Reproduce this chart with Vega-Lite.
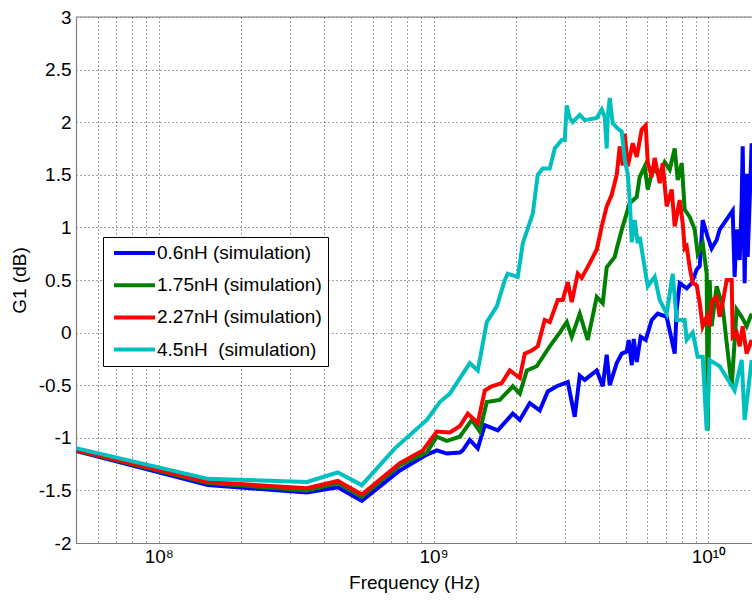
{
  "$schema": "https://vega.github.io/schema/vega-lite/v6.json",
  "width": 676,
  "height": 526,
  "autosize": {"type": "none"},
  "padding": {"left": 76, "top": 17, "right": 0, "bottom": 58},
  "background": "white",
  "config": {
    "view": {"stroke": null},
    "font": "Liberation Sans",
    "axis": {
      "labelFont": "Liberation Sans",
      "titleFont": "Liberation Sans",
      "labelFontSize": 19,
      "titleFontSize": 19,
      "titleFontWeight": "normal",
      "labelColor": "black",
      "titleColor": "black",
      "domainColor": "#7f7f7f",
      "domainWidth": 1.2,
      "gridColor": "#222222",
      "gridDash": [1, 3],
      "gridWidth": 1,
      "gridOpacity": 0.85,
      "ticks": false,
      "labelFlush": false,
      "labelOverlap": false,
      "labelBound": false
    }
  },
  "data": {
    "values": [
      {"series": "0.6nH (simulation)", "freq": 5.0e7, "g": -1.125},
      {"series": "0.6nH (simulation)", "freq": 1.51e8, "g": -1.45},
      {"series": "0.6nH (simulation)", "freq": 3.46e8, "g": -1.52},
      {"series": "0.6nH (simulation)", "freq": 4.48e8, "g": -1.47},
      {"series": "0.6nH (simulation)", "freq": 5.48e8, "g": -1.6},
      {"series": "0.6nH (simulation)", "freq": 7.54e8, "g": -1.31},
      {"series": "0.6nH (simulation)", "freq": 9.45e8, "g": -1.16},
      {"series": "0.6nH (simulation)", "freq": 1.027e9, "g": -1.12},
      {"series": "0.6nH (simulation)", "freq": 1.117e9, "g": -1.15},
      {"series": "0.6nH (simulation)", "freq": 1.245e9, "g": -1.14},
      {"series": "0.6nH (simulation)", "freq": 1.277e9, "g": -1.12},
      {"series": "0.6nH (simulation)", "freq": 1.354e9, "g": -1.02},
      {"series": "0.6nH (simulation)", "freq": 1.448e9, "g": -1.1},
      {"series": "0.6nH (simulation)", "freq": 1.535e9, "g": -0.88},
      {"series": "0.6nH (simulation)", "freq": 1.712e9, "g": -0.93},
      {"series": "0.6nH (simulation)", "freq": 1.941e9, "g": -0.77},
      {"series": "0.6nH (simulation)", "freq": 2.059e9, "g": -0.83},
      {"series": "0.6nH (simulation)", "freq": 2.238e9, "g": -0.67},
      {"series": "0.6nH (simulation)", "freq": 2.433e9, "g": -0.74},
      {"series": "0.6nH (simulation)", "freq": 2.602e9, "g": -0.56},
      {"series": "0.6nH (simulation)", "freq": 2.806e9, "g": -0.51},
      {"series": "0.6nH (simulation)", "freq": 3.077e9, "g": -0.47},
      {"series": "0.6nH (simulation)", "freq": 3.262e9, "g": -0.8},
      {"series": "0.6nH (simulation)", "freq": 3.401e9, "g": -0.41},
      {"series": "0.6nH (simulation)", "freq": 3.547e9, "g": -0.45},
      {"series": "0.6nH (simulation)", "freq": 3.922e9, "g": -0.36},
      {"series": "0.6nH (simulation)", "freq": 4.124e9, "g": -0.51},
      {"series": "0.6nH (simulation)", "freq": 4.264e9, "g": -0.21},
      {"series": "0.6nH (simulation)", "freq": 4.373e9, "g": -0.5},
      {"series": "0.6nH (simulation)", "freq": 4.637e9, "g": -0.29},
      {"series": "0.6nH (simulation)", "freq": 4.836e9, "g": -0.2},
      {"series": "0.6nH (simulation)", "freq": 5.042e9, "g": -0.18},
      {"series": "0.6nH (simulation)", "freq": 5.126e9, "g": -0.07},
      {"series": "0.6nH (simulation)", "freq": 5.259e9, "g": -0.31},
      {"series": "0.6nH (simulation)", "freq": 5.347e9, "g": -0.06},
      {"series": "0.6nH (simulation)", "freq": 5.482e9, "g": -0.28},
      {"series": "0.6nH (simulation)", "freq": 5.668e9, "g": -0.04},
      {"series": "0.6nH (simulation)", "freq": 5.912e9, "g": -0.07},
      {"series": "0.6nH (simulation)", "freq": 6.216e9, "g": 0.12},
      {"series": "0.6nH (simulation)", "freq": 6.536e9, "g": 0.18},
      {"series": "0.6nH (simulation)", "freq": 7.046e9, "g": 0.15},
      {"series": "0.6nH (simulation)", "freq": 7.536e9, "g": -0.2},
      {"series": "0.6nH (simulation)", "freq": 7.663e9, "g": 0.22},
      {"series": "0.6nH (simulation)", "freq": 7.858e9, "g": 0.47},
      {"series": "0.6nH (simulation)", "freq": 8.333e9, "g": 0.42},
      {"series": "0.6nH (simulation)", "freq": 8.69e9, "g": 0.47},
      {"series": "0.6nH (simulation)", "freq": 9.061e9, "g": 0.6},
      {"series": "0.6nH (simulation)", "freq": 9.292e9, "g": 0.63},
      {"series": "0.6nH (simulation)", "freq": 9.528e9, "g": 1.07},
      {"series": "0.6nH (simulation)", "freq": 9.935e9, "g": 0.91},
      {"series": "0.6nH (simulation)", "freq": 1.027e10, "g": 0.8},
      {"series": "0.6nH (simulation)", "freq": 1.071e10, "g": 0.88},
      {"series": "0.6nH (simulation)", "freq": 1.098e10, "g": 0.98},
      {"series": "0.6nH (simulation)", "freq": 1.225e10, "g": 1.16},
      {"series": "0.6nH (simulation)", "freq": 1.245e10, "g": 0.53},
      {"series": "0.6nH (simulation)", "freq": 1.266e10, "g": 0.98},
      {"series": "0.6nH (simulation)", "freq": 1.299e10, "g": 0.69},
      {"series": "0.6nH (simulation)", "freq": 1.321e10, "g": 1.26},
      {"series": "0.6nH (simulation)", "freq": 1.332e10, "g": 1.77},
      {"series": "0.6nH (simulation)", "freq": 1.354e10, "g": 0.47},
      {"series": "0.6nH (simulation)", "freq": 1.377e10, "g": 1.51},
      {"series": "0.6nH (simulation)", "freq": 1.389e10, "g": 0.72},
      {"series": "0.6nH (simulation)", "freq": 1.436e10, "g": 1.8},

      {"series": "1.75nH (simulation)", "freq": 5.0e7, "g": -1.12},
      {"series": "1.75nH (simulation)", "freq": 1.51e8, "g": -1.43},
      {"series": "1.75nH (simulation)", "freq": 3.46e8, "g": -1.5},
      {"series": "1.75nH (simulation)", "freq": 4.48e8, "g": -1.43},
      {"series": "1.75nH (simulation)", "freq": 5.48e8, "g": -1.56},
      {"series": "1.75nH (simulation)", "freq": 7.54e8, "g": -1.26},
      {"series": "1.75nH (simulation)", "freq": 9.45e8, "g": -1.14},
      {"series": "1.75nH (simulation)", "freq": 1.027e9, "g": -0.99},
      {"series": "1.75nH (simulation)", "freq": 1.117e9, "g": -1.03},
      {"series": "1.75nH (simulation)", "freq": 1.245e9, "g": -0.99},
      {"series": "1.75nH (simulation)", "freq": 1.377e9, "g": -0.83},
      {"series": "1.75nH (simulation)", "freq": 1.472e9, "g": -0.94},
      {"series": "1.75nH (simulation)", "freq": 1.561e9, "g": -0.66},
      {"series": "1.75nH (simulation)", "freq": 1.741e9, "g": -0.64},
      {"series": "1.75nH (simulation)", "freq": 1.941e9, "g": -0.51},
      {"series": "1.75nH (simulation)", "freq": 2.059e9, "g": -0.58},
      {"series": "1.75nH (simulation)", "freq": 2.183e9, "g": -0.36},
      {"series": "1.75nH (simulation)", "freq": 2.373e9, "g": -0.32},
      {"series": "1.75nH (simulation)", "freq": 2.646e9, "g": -0.13},
      {"series": "1.75nH (simulation)", "freq": 2.877e9, "g": 0.0},
      {"series": "1.75nH (simulation)", "freq": 3.051e9, "g": 0.1},
      {"series": "1.75nH (simulation)", "freq": 3.181e9, "g": -0.04},
      {"series": "1.75nH (simulation)", "freq": 3.401e9, "g": 0.18},
      {"series": "1.75nH (simulation)", "freq": 3.637e9, "g": -0.07},
      {"series": "1.75nH (simulation)", "freq": 3.922e9, "g": 0.34},
      {"series": "1.75nH (simulation)", "freq": 4.124e9, "g": 0.28},
      {"series": "1.75nH (simulation)", "freq": 4.264e9, "g": 0.62},
      {"series": "1.75nH (simulation)", "freq": 4.56e9, "g": 0.72},
      {"series": "1.75nH (simulation)", "freq": 4.637e9, "g": 0.8},
      {"series": "1.75nH (simulation)", "freq": 4.876e9, "g": 1.01},
      {"series": "1.75nH (simulation)", "freq": 5.169e9, "g": 1.23},
      {"series": "1.75nH (simulation)", "freq": 5.482e9, "g": 1.29},
      {"series": "1.75nH (simulation)", "freq": 5.621e9, "g": 1.48},
      {"series": "1.75nH (simulation)", "freq": 5.863e9, "g": 1.58},
      {"series": "1.75nH (simulation)", "freq": 6.012e9, "g": 1.36},
      {"series": "1.75nH (simulation)", "freq": 6.268e9, "g": 1.55},
      {"series": "1.75nH (simulation)", "freq": 6.646e9, "g": 1.51},
      {"series": "1.75nH (simulation)", "freq": 6.929e9, "g": 1.62},
      {"series": "1.75nH (simulation)", "freq": 7.227e9, "g": 1.55},
      {"series": "1.75nH (simulation)", "freq": 7.536e9, "g": 1.75},
      {"series": "1.75nH (simulation)", "freq": 7.728e9, "g": 1.45},
      {"series": "1.75nH (simulation)", "freq": 7.991e9, "g": 1.61},
      {"series": "1.75nH (simulation)", "freq": 8.194e9, "g": 1.17},
      {"series": "1.75nH (simulation)", "freq": 8.545e9, "g": 1.1},
      {"series": "1.75nH (simulation)", "freq": 8.911e9, "g": 0.98},
      {"series": "1.75nH (simulation)", "freq": 9.137e9, "g": 0.75},
      {"series": "1.75nH (simulation)", "freq": 9.528e9, "g": 0.85},
      {"series": "1.75nH (simulation)", "freq": 9.852e9, "g": 0.56},
      {"series": "1.75nH (simulation)", "freq": 9.935e9, "g": -0.93},
      {"series": "1.75nH (simulation)", "freq": 1.01e10, "g": 0.5},
      {"series": "1.75nH (simulation)", "freq": 1.027e10, "g": 0.06},
      {"series": "1.75nH (simulation)", "freq": 1.071e10, "g": 0.44},
      {"series": "1.75nH (simulation)", "freq": 1.126e10, "g": 0.25},
      {"series": "1.75nH (simulation)", "freq": 1.165e10, "g": -0.1},
      {"series": "1.75nH (simulation)", "freq": 1.215e10, "g": -0.51},
      {"series": "1.75nH (simulation)", "freq": 1.266e10, "g": 0.22},
      {"series": "1.75nH (simulation)", "freq": 1.321e10, "g": 0.15},
      {"series": "1.75nH (simulation)", "freq": 1.377e10, "g": 0.06},
      {"series": "1.75nH (simulation)", "freq": 1.436e10, "g": 0.18},

      {"series": "2.27nH (simulation)", "freq": 5.0e7, "g": -1.115},
      {"series": "2.27nH (simulation)", "freq": 1.51e8, "g": -1.42},
      {"series": "2.27nH (simulation)", "freq": 3.46e8, "g": -1.48},
      {"series": "2.27nH (simulation)", "freq": 4.48e8, "g": -1.41},
      {"series": "2.27nH (simulation)", "freq": 5.48e8, "g": -1.54},
      {"series": "2.27nH (simulation)", "freq": 7.54e8, "g": -1.24},
      {"series": "2.27nH (simulation)", "freq": 9.14e8, "g": -1.12},
      {"series": "2.27nH (simulation)", "freq": 1.027e9, "g": -0.94},
      {"series": "2.27nH (simulation)", "freq": 1.146e9, "g": -0.95},
      {"series": "2.27nH (simulation)", "freq": 1.245e9, "g": -0.89},
      {"series": "2.27nH (simulation)", "freq": 1.332e9, "g": -0.77},
      {"series": "2.27nH (simulation)", "freq": 1.448e9, "g": -0.86},
      {"series": "2.27nH (simulation)", "freq": 1.535e9, "g": -0.55},
      {"series": "2.27nH (simulation)", "freq": 1.628e9, "g": -0.51},
      {"series": "2.27nH (simulation)", "freq": 1.77e9, "g": -0.48},
      {"series": "2.27nH (simulation)", "freq": 1.893e9, "g": -0.36},
      {"series": "2.27nH (simulation)", "freq": 2.059e9, "g": -0.43},
      {"series": "2.27nH (simulation)", "freq": 2.146e9, "g": -0.2},
      {"series": "2.27nH (simulation)", "freq": 2.276e9, "g": -0.17},
      {"series": "2.27nH (simulation)", "freq": 2.393e9, "g": -0.13},
      {"series": "2.27nH (simulation)", "freq": 2.537e9, "g": 0.12},
      {"series": "2.27nH (simulation)", "freq": 2.646e9, "g": 0.1},
      {"series": "2.27nH (simulation)", "freq": 2.83e9, "g": 0.31},
      {"series": "2.27nH (simulation)", "freq": 2.95e9, "g": 0.31},
      {"series": "2.27nH (simulation)", "freq": 3.077e9, "g": 0.48},
      {"series": "2.27nH (simulation)", "freq": 3.181e9, "g": 0.29},
      {"series": "2.27nH (simulation)", "freq": 3.345e9, "g": 0.56},
      {"series": "2.27nH (simulation)", "freq": 3.459e9, "g": 0.52},
      {"series": "2.27nH (simulation)", "freq": 3.699e9, "g": 0.66},
      {"series": "2.27nH (simulation)", "freq": 3.922e9, "g": 0.79},
      {"series": "2.27nH (simulation)", "freq": 4.09e9, "g": 1.01},
      {"series": "2.27nH (simulation)", "freq": 4.264e9, "g": 1.2},
      {"series": "2.27nH (simulation)", "freq": 4.446e9, "g": 1.31},
      {"series": "2.27nH (simulation)", "freq": 4.637e9, "g": 1.5},
      {"series": "2.27nH (simulation)", "freq": 4.755e9, "g": 1.77},
      {"series": "2.27nH (simulation)", "freq": 4.876e9, "g": 1.59},
      {"series": "2.27nH (simulation)", "freq": 4.959e9, "g": 1.89},
      {"series": "2.27nH (simulation)", "freq": 5.084e9, "g": 1.58},
      {"series": "2.27nH (simulation)", "freq": 5.303e9, "g": 1.8},
      {"series": "2.27nH (simulation)", "freq": 5.482e9, "g": 1.67},
      {"series": "2.27nH (simulation)", "freq": 5.716e9, "g": 1.93},
      {"series": "2.27nH (simulation)", "freq": 5.912e9, "g": 1.97},
      {"series": "2.27nH (simulation)", "freq": 6.012e9, "g": 1.62},
      {"series": "2.27nH (simulation)", "freq": 6.216e9, "g": 1.48},
      {"series": "2.27nH (simulation)", "freq": 6.374e9, "g": 1.66},
      {"series": "2.27nH (simulation)", "freq": 6.646e9, "g": 1.42},
      {"series": "2.27nH (simulation)", "freq": 6.815e9, "g": 1.61},
      {"series": "2.27nH (simulation)", "freq": 7.046e9, "g": 1.2},
      {"series": "2.27nH (simulation)", "freq": 7.349e9, "g": 1.36},
      {"series": "2.27nH (simulation)", "freq": 7.536e9, "g": 1.01},
      {"series": "2.27nH (simulation)", "freq": 7.858e9, "g": 1.26},
      {"series": "2.27nH (simulation)", "freq": 8.058e9, "g": 1.04},
      {"series": "2.27nH (simulation)", "freq": 8.194e9, "g": 0.8},
      {"series": "2.27nH (simulation)", "freq": 8.333e9, "g": 0.82},
      {"series": "2.27nH (simulation)", "freq": 8.545e9, "g": 0.62},
      {"series": "2.27nH (simulation)", "freq": 8.762e9, "g": 0.47},
      {"series": "2.27nH (simulation)", "freq": 9.061e9, "g": 0.45},
      {"series": "2.27nH (simulation)", "freq": 9.292e9, "g": 0.28},
      {"series": "2.27nH (simulation)", "freq": 9.528e9, "g": 0.06},
      {"series": "2.27nH (simulation)", "freq": 9.852e9, "g": 0.15},
      {"series": "2.27nH (simulation)", "freq": 1.01e10, "g": 0.06},
      {"series": "2.27nH (simulation)", "freq": 1.027e10, "g": 0.3},
      {"series": "2.27nH (simulation)", "freq": 1.071e10, "g": 0.34},
      {"series": "2.27nH (simulation)", "freq": 1.098e10, "g": 0.15},
      {"series": "2.27nH (simulation)", "freq": 1.126e10, "g": 0.28},
      {"series": "2.27nH (simulation)", "freq": 1.165e10, "g": 0.5},
      {"series": "2.27nH (simulation)", "freq": 1.215e10, "g": 0.5},
      {"series": "2.27nH (simulation)", "freq": 1.225e10, "g": -0.04},
      {"series": "2.27nH (simulation)", "freq": 1.266e10, "g": 0.0},
      {"series": "2.27nH (simulation)", "freq": 1.299e10, "g": -0.13},
      {"series": "2.27nH (simulation)", "freq": 1.332e10, "g": 0.06},
      {"series": "2.27nH (simulation)", "freq": 1.377e10, "g": -0.2},
      {"series": "2.27nH (simulation)", "freq": 1.436e10, "g": -0.07},

      {"series": "4.5nH\u00a0 (simulation)", "freq": 5.0e7, "g": -1.1},
      {"series": "4.5nH\u00a0 (simulation)", "freq": 1.51e8, "g": -1.39},
      {"series": "4.5nH\u00a0 (simulation)", "freq": 3.46e8, "g": -1.42},
      {"series": "4.5nH\u00a0 (simulation)", "freq": 4.48e8, "g": -1.33},
      {"series": "4.5nH\u00a0 (simulation)", "freq": 5.48e8, "g": -1.45},
      {"series": "4.5nH\u00a0 (simulation)", "freq": 7.23e8, "g": -1.1},
      {"series": "4.5nH\u00a0 (simulation)", "freq": 9.45e8, "g": -0.83},
      {"series": "4.5nH\u00a0 (simulation)", "freq": 1.053e9, "g": -0.66},
      {"series": "4.5nH\u00a0 (simulation)", "freq": 1.146e9, "g": -0.58},
      {"series": "4.5nH\u00a0 (simulation)", "freq": 1.354e9, "g": -0.29},
      {"series": "4.5nH\u00a0 (simulation)", "freq": 1.448e9, "g": -0.36},
      {"series": "4.5nH\u00a0 (simulation)", "freq": 1.561e9, "g": 0.1},
      {"series": "4.5nH\u00a0 (simulation)", "freq": 1.698e9, "g": 0.25},
      {"series": "4.5nH\u00a0 (simulation)", "freq": 1.816e9, "g": 0.5},
      {"series": "4.5nH\u00a0 (simulation)", "freq": 1.862e9, "g": 0.56},
      {"series": "4.5nH\u00a0 (simulation)", "freq": 2.024e9, "g": 0.53},
      {"series": "4.5nH\u00a0 (simulation)", "freq": 2.111e9, "g": 0.85},
      {"series": "4.5nH\u00a0 (simulation)", "freq": 2.295e9, "g": 1.13},
      {"series": "4.5nH\u00a0 (simulation)", "freq": 2.393e9, "g": 1.5},
      {"series": "4.5nH\u00a0 (simulation)", "freq": 2.495e9, "g": 1.56},
      {"series": "4.5nH\u00a0 (simulation)", "freq": 2.646e9, "g": 1.56},
      {"series": "4.5nH\u00a0 (simulation)", "freq": 2.759e9, "g": 1.75},
      {"series": "4.5nH\u00a0 (simulation)", "freq": 2.926e9, "g": 1.83},
      {"series": "4.5nH\u00a0 (simulation)", "freq": 3.0e9, "g": 1.83},
      {"series": "4.5nH\u00a0 (simulation)", "freq": 3.051e9, "g": 2.16},
      {"series": "4.5nH\u00a0 (simulation)", "freq": 3.128e9, "g": 2.04},
      {"series": "4.5nH\u00a0 (simulation)", "freq": 3.208e9, "g": 2.0},
      {"series": "4.5nH\u00a0 (simulation)", "freq": 3.401e9, "g": 2.07},
      {"series": "4.5nH\u00a0 (simulation)", "freq": 3.547e9, "g": 2.02},
      {"series": "4.5nH\u00a0 (simulation)", "freq": 3.922e9, "g": 2.04},
      {"series": "4.5nH\u00a0 (simulation)", "freq": 4.09e9, "g": 2.12},
      {"series": "4.5nH\u00a0 (simulation)", "freq": 4.193e9, "g": 2.05},
      {"series": "4.5nH\u00a0 (simulation)", "freq": 4.264e9, "g": 1.75},
      {"series": "4.5nH\u00a0 (simulation)", "freq": 4.3e9, "g": 2.05},
      {"series": "4.5nH\u00a0 (simulation)", "freq": 4.373e9, "g": 2.23},
      {"series": "4.5nH\u00a0 (simulation)", "freq": 4.484e9, "g": 1.99},
      {"series": "4.5nH\u00a0 (simulation)", "freq": 4.676e9, "g": 1.94},
      {"series": "4.5nH\u00a0 (simulation)", "freq": 4.836e9, "g": 1.91},
      {"series": "4.5nH\u00a0 (simulation)", "freq": 4.959e9, "g": 1.64},
      {"series": "4.5nH\u00a0 (simulation)", "freq": 5.084e9, "g": 1.51},
      {"series": "4.5nH\u00a0 (simulation)", "freq": 5.169e9, "g": 1.26},
      {"series": "4.5nH\u00a0 (simulation)", "freq": 5.259e9, "g": 0.86},
      {"series": "4.5nH\u00a0 (simulation)", "freq": 5.392e9, "g": 1.07},
      {"series": "4.5nH\u00a0 (simulation)", "freq": 5.528e9, "g": 0.85},
      {"series": "4.5nH\u00a0 (simulation)", "freq": 5.621e9, "g": 0.91},
      {"series": "4.5nH\u00a0 (simulation)", "freq": 6.012e9, "g": 0.44},
      {"series": "4.5nH\u00a0 (simulation)", "freq": 6.374e9, "g": 0.53},
      {"series": "4.5nH\u00a0 (simulation)", "freq": 6.646e9, "g": 0.31},
      {"series": "4.5nH\u00a0 (simulation)", "freq": 7.046e9, "g": 0.18},
      {"series": "4.5nH\u00a0 (simulation)", "freq": 7.41e9, "g": 0.56},
      {"series": "4.5nH\u00a0 (simulation)", "freq": 7.663e9, "g": 0.12},
      {"series": "4.5nH\u00a0 (simulation)", "freq": 8.194e9, "g": 0.12},
      {"series": "4.5nH\u00a0 (simulation)", "freq": 8.333e9, "g": -0.07},
      {"series": "4.5nH\u00a0 (simulation)", "freq": 8.762e9, "g": 0.0},
      {"series": "4.5nH\u00a0 (simulation)", "freq": 9.137e9, "g": -0.23},
      {"series": "4.5nH\u00a0 (simulation)", "freq": 9.528e9, "g": -0.23},
      {"series": "4.5nH\u00a0 (simulation)", "freq": 9.852e9, "g": -0.93},
      {"series": "4.5nH\u00a0 (simulation)", "freq": 1.01e10, "g": -0.26},
      {"series": "4.5nH\u00a0 (simulation)", "freq": 1.053e10, "g": -0.29},
      {"series": "4.5nH\u00a0 (simulation)", "freq": 1.098e10, "g": -0.32},
      {"series": "4.5nH\u00a0 (simulation)", "freq": 1.245e10, "g": -0.55},
      {"series": "4.5nH\u00a0 (simulation)", "freq": 1.321e10, "g": -0.26},
      {"series": "4.5nH\u00a0 (simulation)", "freq": 1.354e10, "g": -0.83},
      {"series": "4.5nH\u00a0 (simulation)", "freq": 1.436e10, "g": -0.26}
    ]
  },
  "layer": [
    {
      "mark": {"type": "line", "strokeWidth": 4, "clip": true, "strokeJoin": "miter"},
      "encoding": {
        "x": {
          "field": "freq",
          "type": "quantitative",
          "scale": {"type": "log", "domain": [5e7, 1.44e10], "nice": false},
          "axis": {
            "title": "Frequency (Hz)",
            "values": [6e7, 7e7, 8e7, 9e7, 100000000, 2e8, 3e8, 4e8, 5e8, 6e8, 7e8, 8e8, 9e8, 1000000000, 2e9, 3e9, 4e9, 5e9, 6e9, 7e9, 8e9, 9e9, 10000000000],
            "labelExpr": "datum.value == 100000000 ? '10⁸' : datum.value == 1000000000 ? '10⁹' : datum.value == 10000000000 ? '10¹⁰' : ''",
            "labelPadding": 4,
            "titlePadding": 7
          }
        },
        "y": {
          "field": "g",
          "type": "quantitative",
          "scale": {"domain": [-2, 3], "nice": false, "zero": false},
          "axis": {
            "title": "G1 (dB)",
            "values": [-2, -1.5, -1, -0.5, 0, 0.5, 1, 1.5, 2, 2.5, 3],
            "labelExpr": "datum.value + ''",
            "labelPadding": 5,
            "titlePadding": 9
          }
        },
        "color": {
          "field": "series",
          "type": "nominal",
          "scale": {
            "domain": ["0.6nH (simulation)", "1.75nH (simulation)", "2.27nH (simulation)", "4.5nH\u00a0 (simulation)"],
            "range": ["#0000ff", "#008000", "#ff0000", "#00bfbf"]
          },
          "legend": {
            "title": null,
            "orient": "none",
            "legendX": 27,
            "legendY": 220,
            "symbolType": "stroke",
            "symbolSize": 1681,
            "symbolStrokeWidth": 4,
            "labelFont": "Liberation Sans",
            "labelFontSize": 19,
            "labelColor": "black",
            "labelLimit": 0,
            "labelExpr": "datum.label + '\u00a0\u00a0\u00a0'",
            "strokeColor": "black",
            "fillColor": "white",
            "padding": 6,
            "rowPadding": 12.2,
            "clipHeight": 20,
            "labelOffset": 0,
            "symbolOffset": 3
          }
        }
      }
    },
    {
      "data": {"values": [{}]},
      "mark": {"type": "rule", "color": "#7f7f7f", "strokeWidth": 1.2},
      "encoding": {"y": {"datum": 3}}
    }
  ]
}
